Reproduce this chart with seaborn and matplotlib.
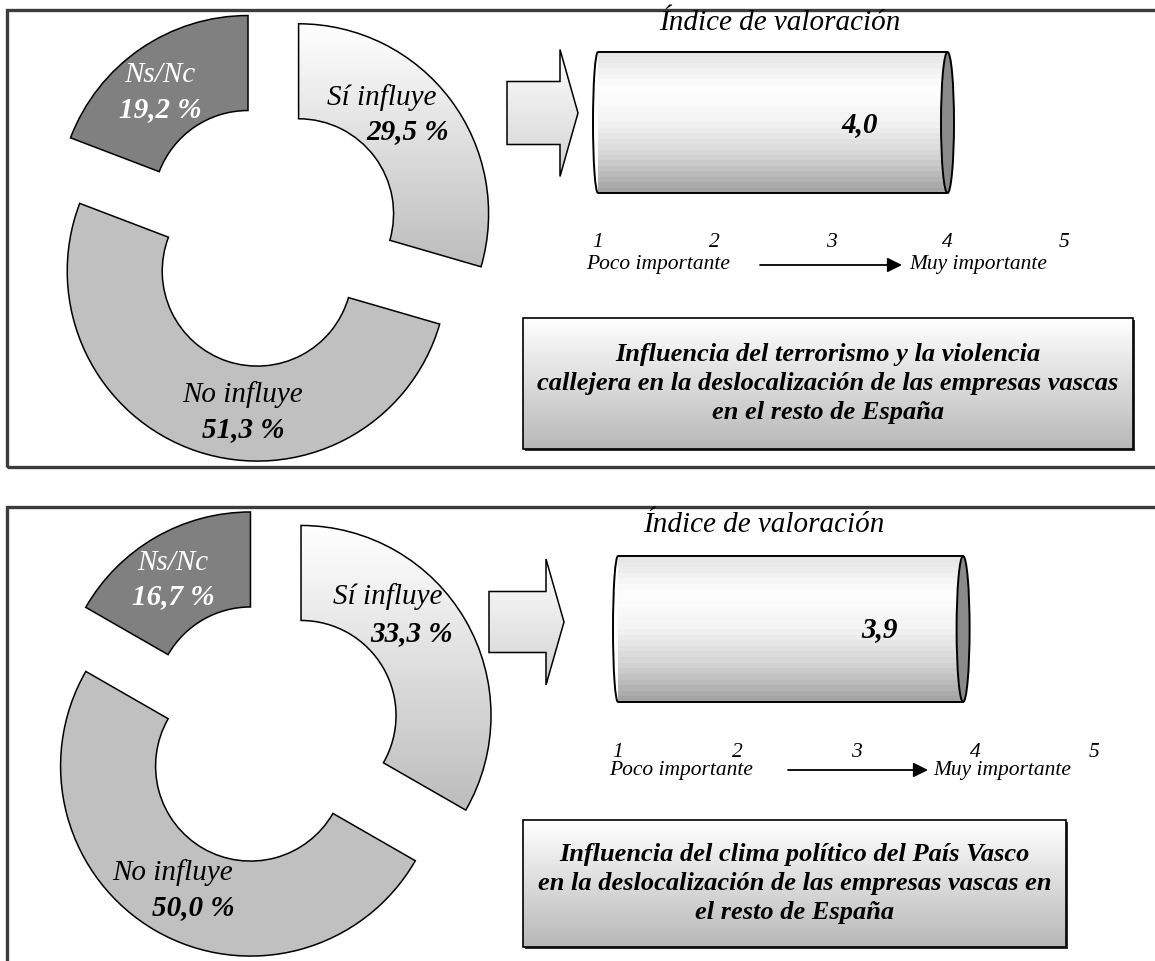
import matplotlib.pyplot as plt
import matplotlib.patches as mpatches
import numpy as np
import seaborn as sns

W, H = 1155, 961

# data
categories = ["Sí influye", "No influye", "Ns/Nc"]
shares_terrorismo = [29.5, 51.3, 19.2]
shares_clima = [33.3, 50.0, 16.7]
index_values = [4.0, 3.9]
index_labels = ["4,0", "3,9"]
scale_ticks = [1, 2, 3, 4, 5]
scale_ends = ["Poco importante", "Muy importante"]
index_title = "Índice de valoración"
box_titles = [
    "Influencia del terrorismo y la violencia\ncallejera en la deslocalización de las empresas vascas\nen el resto de España",
    "Influencia del clima político del País Vasco\nen la deslocalización de las empresas vascas en\nel resto de España",
]

sns.set_theme(style="white")
plt.rcParams["font.family"] = ["Liberation Serif", "DejaVu Serif"]
plt.rcParams["text.color"] = "black"
plt.rcParams["xtick.color"] = "black"

fig = plt.figure(figsize=(W / 100, H / 100), dpi=100)
ax = fig.add_axes([0, 0, 1, 1])


def fy(y):
    # image rows -> data y (y up)
    return H - y


def px_axes(x0, x1, ytop, ybot):
    return fig.add_axes([x0 / W, 1 - ybot / H, (x1 - x0) / W, (ybot - ytop) / H])


def fill_gradient(target_ax, patch, colors, extent, n=64):
    # colors go bottom -> top
    cmap = sns.blend_palette(colors, as_cmap=True)
    grad = np.linspace(0, 1, n).reshape(-1, 1)
    im = target_ax.imshow(grad, extent=extent, cmap=cmap, vmin=0, vmax=1,
                          origin="lower", aspect="auto", zorder=patch.get_zorder() - 0.1,
                          interpolation="bilinear")
    im.set_clip_path(patch)
    return im


# layout of each panel (image pixels)
panels = [
    dict(frame=(10, 467), center=(269, 236),
         lab=[((382, 98), (408, 132)), ((243, 395), (243, 430)), ((160, 75), (160, 110))],
         title_xy=(780, 23), arrow=(507, 578, 113, 31.5, 63.5, 18),
         cyl=(598, 1064, 52, 193), val_xy=(860, 125), ends_y=265,
         poco_x=586, arr_x=(760, 902), muy_x=909,
         box=(523, 1133, 318, 449)),
    dict(frame=(507, 1010), center=(269, 734),
         lab=[((388, 597), (412, 634)), ((173, 873), (193, 908)), ((173, 563), (173, 597))],
         title_xy=(764, 525), arrow=(489, 564, 622, 30.5, 63, 18),
         cyl=(618, 1094, 556, 702), val_xy=(879, 630), ends_y=770,
         poco_x=609, arr_x=(788, 928), muy_x=933,
         box=(523, 1066, 820, 947)),
]
shares_all = [shares_terrorismo, shares_clima]

for i, p in enumerate(panels):
    shares = shares_all[i]

    # panel frame (right / bottom side run off the page)
    ftop, fbot = p["frame"]
    ax.add_patch(mpatches.Rectangle((7, fy(fbot)), 1250, fbot - ftop,
                                    fill=False, ec="#3c3c3c", lw=2.4))

    # exploded donut
    cx, cy = p["center"]
    wedges, _ = ax.pie(shares, radius=190, center=(cx, fy(cy)), startangle=90,
                       counterclock=False, explode=[37, 37, 37],
                       colors=["none", "#c0c0c0", "#808080"],
                       wedgeprops=dict(width=95, edgecolor="black", linewidth=1.1))
    w = wedges[0]
    x0, y0, x1, y1 = w.get_path().get_extents().extents
    fill_gradient(ax, w, ["#bdbdbd", "#ffffff"], (x0, x1, y0, y1))

    for k, (name, share) in enumerate(zip(categories, shares)):
        (nx, ny), (vx, vy) = p["lab"][k]
        col = "white" if k == 2 else "black"
        ax.text(nx, fy(ny), name, ha="center", va="center", fontsize=21,
                style="italic", color=col, zorder=5)
        ax.text(vx, fy(vy), f"{share:.1f} %".replace(".", ","), ha="center", va="center",
                fontsize=21, style="italic", weight="bold", color=col, zorder=5)

    # index title
    tx, ty = p["title_xy"]
    ax.text(tx, fy(ty), index_title, ha="center", va="center", fontsize=21, style="italic")

    # block arrow
    ax0, ax1, acy, bh, hh, hl = p["arrow"]
    arr = mpatches.FancyArrow(ax0, fy(acy), ax1 - ax0, 0, width=2 * bh, head_width=2 * hh,
                              head_length=hl, length_includes_head=True,
                              fc="none", ec="black", lw=1.1, zorder=3)
    ax.add_patch(arr)
    fill_gradient(ax, arr, ["#d2d2d2", "#ffffff"],
                  (ax0, ax1, fy(acy + hh), fy(acy - hh)))

    # cylinder on the 1-5 scale
    p1, p5, ctop, cbot = p["cyl"]
    b = (p5 - p1) / 4
    ch = cbot - ctop
    cmid = (ctop + cbot) / 2
    cax = px_axes(p1 - 0.5 * b, p5 + 0.5 * b, cmid - 0.6 * ch, cmid + 0.6 * ch)
    cax.set_xlim(0.5, 5.5)
    cax.set_ylim(-0.6, 0.6)
    cax.set_facecolor("none")
    value = index_values[i]
    bars = cax.barh(0, value - 1, left=1, height=1, color="none", edgecolor="none")
    bar = bars.patches[0]
    shades = sns.blend_palette(["#e6e6e6", "#ffffff", "#f3f3f3", "#d4d4d4", "#a4a4a4"], 26)
    img = np.array(shades).reshape(-1, 1, 3)
    im = cax.imshow(img, extent=(1, value, -0.5, 0.5), origin="upper", aspect="auto",
                    interpolation="nearest", zorder=1)
    im.set_clip_path(bar)
    cax.hlines([-0.5, 0.5], 1, value, colors="black", lw=1.4, zorder=3)
    cax.add_patch(mpatches.Arc((1, 0), 10 / b, 1, theta1=90, theta2=270,
                               ec="black", lw=1.4, zorder=3, clip_on=False))
    cax.add_patch(mpatches.Ellipse((value, 0), 13 / b, 1, fc="#8a8a8a", ec="black",
                                   lw=1.4, zorder=4, clip_on=False))
    cax.set_yticks([])
    cax.set_xticks(scale_ticks, labels=[str(t) for t in scale_ticks])
    cax.tick_params(axis="x", length=0, pad=19, labelsize=15.5, labelcolor="black")
    for t in cax.get_xticklabels():
        t.set_fontstyle("italic")
    sns.despine(ax=cax, left=True, bottom=True)

    # value label sits on top of the cylinder
    vx, vy = p["val_xy"]
    cax.text(vx, fy(vy), index_labels[i], transform=ax.transData, ha="center", va="center",
             fontsize=21, style="italic", weight="bold", color="black", zorder=6,
             clip_on=False)

    # scale ends
    ey = fy(p["ends_y"])
    ax.text(p["poco_x"], ey, scale_ends[0], ha="left", va="center", fontsize=15.5, style="italic")
    ax.text(p["muy_x"], ey, scale_ends[1], ha="left", va="center", fontsize=15.5, style="italic")
    ax.annotate("", xy=(p["arr_x"][1], ey), xytext=(p["arr_x"][0], ey),
                arrowprops=dict(arrowstyle="-|>", color="black", lw=1.3, mutation_scale=22,
                                shrinkA=0, shrinkB=0))

    # title box with shadow
    bx0, bx1, bt, bb = p["box"]
    ax.add_patch(mpatches.Rectangle((bx0 + 2, fy(bb + 2)), bx1 - bx0, bb - bt,
                                    fc="#333333", ec="none", zorder=2))
    box = mpatches.Rectangle((bx0, fy(bb)), bx1 - bx0, bb - bt, fc="none", ec="black",
                             lw=1.2, zorder=4)
    ax.add_patch(box)
    fill_gradient(ax, box, ["#b8b8b8", "#ffffff"], (bx0, bx1, fy(bb), fy(bt)))
    ax.text((bx0 + bx1) / 2, fy((bt + bb) / 2), box_titles[i], ha="center", va="center",
            fontsize=19, style="italic", weight="bold", linespacing=1.35, zorder=5)

ax.set_xlim(0, W)
ax.set_ylim(0, H)
ax.set_aspect("auto")
ax.axis("off")

fig.savefig("out.png", dpi=100)
